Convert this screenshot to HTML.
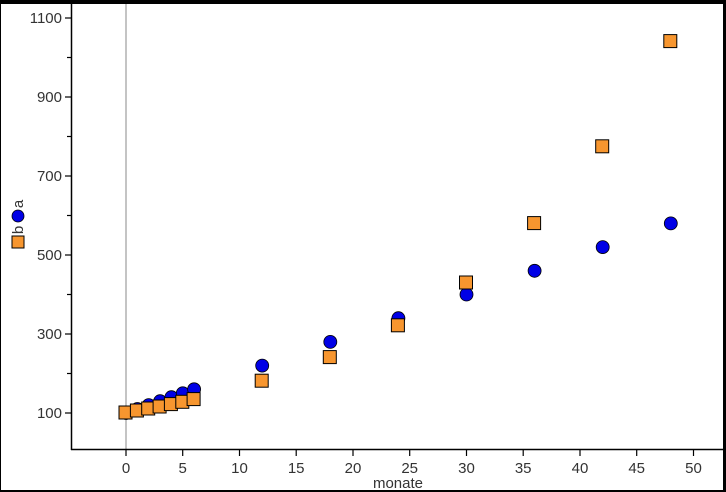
<!DOCTYPE html>
<html><head><meta charset="utf-8"><style>body{margin:0;background:#fff}svg{display:block}text{font-family:"Liberation Sans",sans-serif;font-size:15px;fill:#333}</style></head><body>
<svg width="726" height="492" xmlns="http://www.w3.org/2000/svg">
<rect x="0" y="0" width="726" height="492" fill="#fff"/>
<rect x="0.5" y="1.5" width="723" height="489" fill="none" stroke="#000" stroke-width="1"/>
<rect x="0" y="0" width="726" height="4" fill="#000"/>
<rect x="723" y="0" width="3" height="492" fill="#000"/>
<rect x="0" y="490" width="726" height="2" fill="#000"/>
<line x1="126" y1="4" x2="126" y2="450" stroke="#888" stroke-width="1"/>
<line x1="71.5" y1="4" x2="71.5" y2="450" stroke="#000" stroke-width="1.5"/>
<line x1="71" y1="449.5" x2="723" y2="449.5" stroke="#000" stroke-width="1.5"/>
<g stroke="#000" stroke-width="1.2">
<line x1="65" y1="413" x2="71" y2="413"/><line x1="65" y1="334" x2="71" y2="334"/><line x1="65" y1="255" x2="71" y2="255"/><line x1="65" y1="176" x2="71" y2="176"/><line x1="65" y1="97" x2="71" y2="97"/><line x1="65" y1="18" x2="71" y2="18"/>
<line x1="67" y1="373.5" x2="71" y2="373.5"/><line x1="67" y1="294.5" x2="71" y2="294.5"/><line x1="67" y1="215.5" x2="71" y2="215.5"/><line x1="67" y1="136.5" x2="71" y2="136.5"/><line x1="67" y1="57.5" x2="71" y2="57.5"/>
<line x1="126" y1="450" x2="126" y2="456"/><line x1="182.7" y1="450" x2="182.7" y2="456"/><line x1="239.5" y1="450" x2="239.5" y2="456"/><line x1="296.2" y1="450" x2="296.2" y2="456"/><line x1="353" y1="450" x2="353" y2="456"/><line x1="409.7" y1="450" x2="409.7" y2="456"/><line x1="466.5" y1="450" x2="466.5" y2="456"/><line x1="523.2" y1="450" x2="523.2" y2="456"/><line x1="580" y1="450" x2="580" y2="456"/><line x1="636.7" y1="450" x2="636.7" y2="456"/><line x1="693.5" y1="450" x2="693.5" y2="456"/>
</g>
<g text-anchor="end">
<text x="62" y="418">100</text><text x="62" y="339">300</text><text x="62" y="260">500</text><text x="62" y="181">700</text><text x="62" y="102">900</text><text x="62" y="23">1100</text>
</g>
<g text-anchor="middle">
<text x="126" y="473">0</text><text x="182.7" y="473">5</text><text x="239.5" y="473">10</text><text x="296.2" y="473">15</text><text x="353" y="473">20</text><text x="409.7" y="473">25</text><text x="466.5" y="473">30</text><text x="523.2" y="473">35</text><text x="580" y="473">40</text><text x="636.7" y="473">45</text><text x="693.5" y="473">50</text>
<text x="398" y="488">monate</text>
</g>
<text transform="translate(23,204) rotate(-90)" text-anchor="middle">a</text>
<circle cx="18" cy="216" r="6" fill="#0000e6" stroke="#000" stroke-width="0.8"/>
<text transform="translate(23,230) rotate(-90)" text-anchor="middle">b</text>
<rect x="12" y="236" width="12" height="12" fill="#f7962f" stroke="#000" stroke-width="1"/>
<g fill="#0000e6" stroke="#000" stroke-width="0.8">
<circle cx="126" cy="413" r="6.5"/><circle cx="137.4" cy="409" r="6.5"/><circle cx="148.7" cy="405.1" r="6.5"/><circle cx="160.1" cy="401.2" r="6.5"/><circle cx="171.4" cy="397.2" r="6.5"/><circle cx="182.8" cy="393.3" r="6.5"/><circle cx="194.1" cy="389.3" r="6.5"/>
<circle cx="262.2" cy="365.6" r="6.5"/><circle cx="330.3" cy="341.9" r="6.5"/><circle cx="398.4" cy="318.2" r="6.5"/><circle cx="466.5" cy="294.5" r="6.5"/><circle cx="534.6" cy="270.8" r="6.5"/><circle cx="602.7" cy="247.1" r="6.5"/><circle cx="670.8" cy="223.4" r="6.5"/>
</g>
<g fill="#f7962f" stroke="#000" stroke-width="1">
<rect x="119" y="406" width="13" height="13"/><rect x="130.4" y="404" width="13" height="13"/><rect x="141.7" y="402" width="13" height="13"/><rect x="153.1" y="400" width="13" height="13"/><rect x="164.4" y="397.6" width="13" height="13"/><rect x="175.8" y="395.3" width="13" height="13"/><rect x="187.1" y="392.6" width="13" height="13"/>
<rect x="255.2" y="374.2" width="13" height="13"/><rect x="323.3" y="350.6" width="13" height="13"/><rect x="391.4" y="318.8" width="13" height="13"/><rect x="459.5" y="276" width="13" height="13"/><rect x="527.6" y="216.6" width="13" height="13"/><rect x="595.7" y="139.8" width="13" height="13"/><rect x="663.8" y="34.6" width="13" height="13"/>
</g>
</svg>
</body></html>
